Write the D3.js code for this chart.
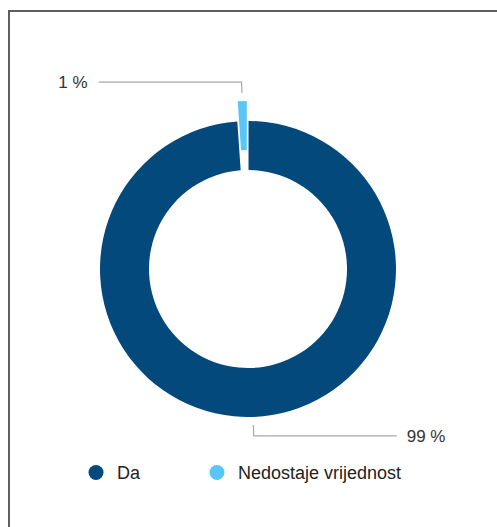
<!DOCTYPE html>
<head>
  <meta charset="utf-8" />
  <script src="https://cdn.jsdelivr.net/npm/d3@7"></script>
  <style>
    body {
      margin: 0;
      background: #fff;
    }
    svg {
      display: block;
      font-family: "Liberation Sans", Arial, Helvetica, sans-serif;
    }
  </style>
</head>

<body>
  <svg width="497" height="527"></svg>
  <script>
    // slices, in drawing order from 12 o'clock clockwise
    const categories = ["Da", "Nedostaje vrijednost"];
    const values = [99, 1];
    const labels = ["99 %", "1 %"];
    const colors = ["#03497c", "#5ac5f8"];

    const width = 497;
    const height = 527;
    const cx = 248, cy = 269;
    const outerR = 148, innerR = 99;
    const explode = [0, 20]; // how far each slice is pulled out

    const svg = d3.select("svg");

    // frame of the card, only top and left edge are visible
    svg.append("rect")
      .attr("x", 9).attr("y", 11)
      .attr("width", 600).attr("height", 600)
      .attr("fill", "none")
      .attr("stroke", "#5e5e5e")
      .attr("stroke-width", 2);

    const data = categories.map((c, i) => ({ name: c, value: values[i], label: labels[i], color: colors[i], off: explode[i] }));

    const pie = d3.pie().sort(null).value(d => d.value).padAngle(0.006);
    const arc = d3.arc().innerRadius(innerR).outerRadius(outerR);
    const arcs = pie(data);

    const g = svg.append("g").attr("transform", `translate(${cx},${cy})`);

    g.selectAll("path")
      .data(arcs)
      .enter()
      .append("path")
      .attr("d", arc)
      .attr("fill", d => d.data.color)
      .attr("transform", d => {
        const a = (d.startAngle + d.endAngle) / 2;
        return `translate(${d.data.off * Math.sin(a)},${-d.data.off * Math.cos(a)})`;
      });

    // leader lines: short radial piece then a horizontal run to the label
    const pt = (a, r) => [r * Math.sin(a), -r * Math.cos(a)];
    const run = 143;

    arcs.forEach(d => {
      const a = (d.startAngle + d.endAngle) / 2;
      const r0 = outerR + d.data.off + 8;
      const r1 = outerR + d.data.off + 19;
      const p0 = pt(a, r0);
      const p1 = pt(a, r1);
      const left = Math.cos(a) > 0; // top half goes to the left
      const p2 = [p1[0] + (left ? -run : run), p1[1]];

      g.append("path")
        .attr("d", d3.line()([p0, p1, p2]))
        .attr("fill", "none")
        .attr("stroke", "#a8a8a8")
        .attr("stroke-width", 1.2);

      g.append("text")
        .attr("x", p2[0] + (left ? -11 : 10))
        .attr("y", p2[1])
        .attr("dy", "0.35em")
        .attr("text-anchor", left ? "end" : "start")
        .attr("font-size", 17)
        .attr("fill", "#333")
        .text(d.data.label);
    });

    // legend
    const legendX = [96, 217];
    const legend = svg.append("g").attr("transform", "translate(0,472.5)");
    data.forEach((d, i) => {
      legend.append("circle")
        .attr("cx", legendX[i]).attr("cy", 0).attr("r", 7.5)
        .attr("fill", d.color);
      legend.append("text")
        .attr("x", legendX[i] + 21)
        .attr("y", 0)
        .attr("dy", "0.35em")
        .attr("font-size", 18)
        .attr("fill", "#222")
        .text(d.name);
    });
  </script>
</body>
